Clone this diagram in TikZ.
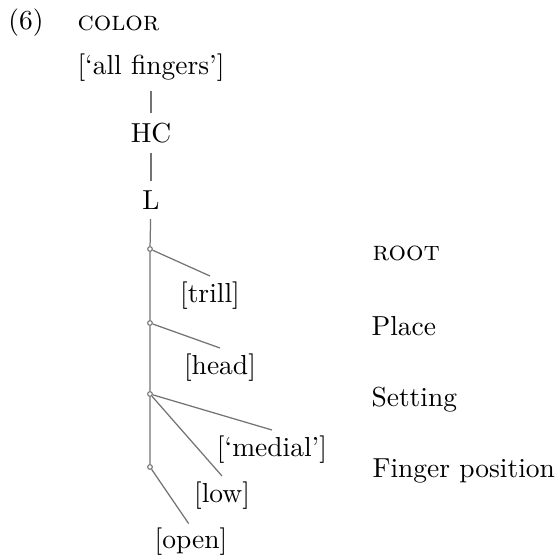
\documentclass[tikz,border=0pt]{standalone}
\usepackage{amsmath}
\usepackage{amssymb}
\usepackage{tikz}

\begin{document}
\begin{tikzpicture}[x=0.3636pt, y=-0.3636pt,
    feat/.style={inner sep=2pt},
    tier/.style={anchor=base west, inner sep=0pt},
    joint/.style={circle, draw=black!55, fill=white, inner sep=0pt, minimum size=1.7pt},
    link/.style={draw=black!55, line width=0.45pt}]
  \useasboundingbox (0,0) rectangle (556,556);

  % Example number and class
  \node (num) at (26,23) {(6)};
  \node[anchor=west, inner sep=0pt] (cls) at (77,23) {\textsc{color}};

  % Nodes for the upper chain
  \node (fing) at (151,68) {[`all fingers']};
  \node (hc)   at (151,133) {HC};
  \node (l)    at (151,200) {L};

  % Joints on the spine
  \node[joint] (j1) at (150,249) {};
  \node[joint] (j2) at (150,323) {};
  \node[joint] (j3) at (150,394) {};
  \node[joint] (j4) at (150,467) {};

  % Feature values
  \node[feat, anchor=north] (trill)  at (210,276) {[trill]};
  \node[feat, anchor=north] (head)   at (220,348) {[head]};
  \node[feat, anchor=north] (medial) at (272,430) {[`medial']};
  \node[feat, anchor=north] (low)    at (222,476) {[low]};
  \node[feat, anchor=north, inner sep=0pt] (open) at (191,527) {[open]};

  % Tier names
  \node[tier] (root)  at (372,260) {\textsc{root}};
  \node[tier] (place) at (371,335) {Place};
  \node[tier] (set)   at (371,406) {Setting};
  \node[tier] (fpos)  at (372,477) {Finger position};

  % Edges of the chain
  \draw[link] (fing) -- (hc);
  \draw[link] (hc) -- (l);
  \draw[link] (l) -- (j1) -- (j2) -- (j3) -- (j4);

  % Edges to the values
  \draw[link] (j1) -- (trill.north);
  \draw[link] (j2) -- (head.north);
  \draw[link] (j3) -- (medial.north);
  \draw[link] (j3) -- (low.north);
  \draw[link, shorten >=1.5pt] (j4) -- (open.north);

\end{tikzpicture}
\end{document}
